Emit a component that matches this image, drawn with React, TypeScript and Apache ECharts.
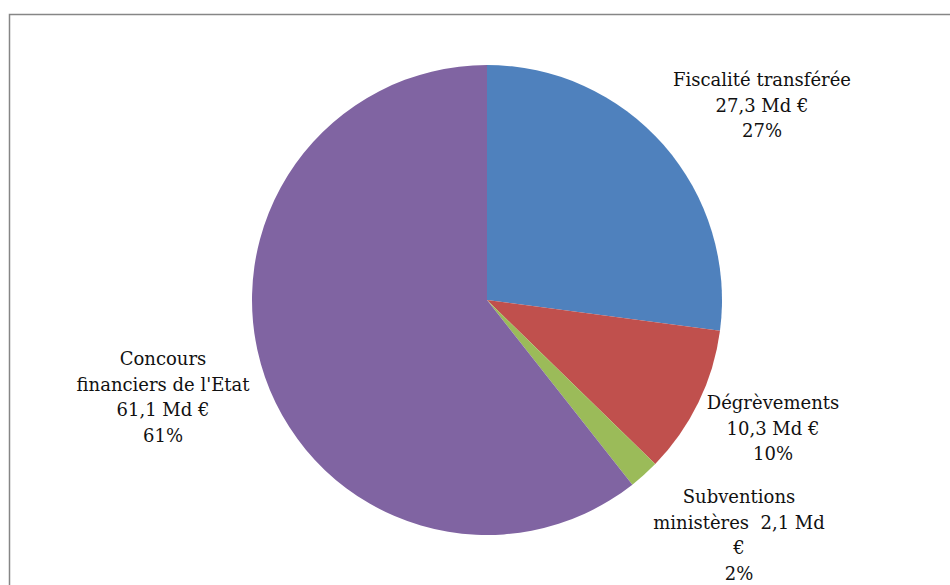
import React, { useEffect, useRef } from "react";
import * as echarts from "echarts";

const categories = [
  "Fiscalité transférée",
  "Dégrèvements",
  "Subventions ministères",
  "Concours financiers de l'Etat",
];
const values = [27.3, 10.3, 2.1, 61.1];
const colors = ["#4F81BD", "#C0504D", "#9BBB59", "#8064A2"];
// How each label's text is broken into lines ({v} = value, {p} = percent)
const labelTemplates = [
  "Fiscalité transférée\n{v} Md €\n{p}%",
  "Dégrèvements\n{v} Md €\n{p}%",
  "Subventions\nministères  {v} Md\n€\n{p}%",
  "Concours\nfinanciers de l'Etat\n{v} Md €\n{p}%",
];
const labelPos = [
  [762, 105],
  [773, 428],
  [739, 535],
  [163, 397],
];

export default function App() {
  const ref = useRef<HTMLDivElement>(null);
  useEffect(() => {
    if (!ref.current) return;
    const chart = echarts.init(ref.current, undefined, { renderer: "svg" });
    chart.setOption({
      animation: false,
      backgroundColor: "#ffffff",
      graphic: [
        {
          type: "rect",
          shape: { x: 9.5, y: 14.5, width: 1200, height: 1200 },
          style: { fill: "none", stroke: "#868686", lineWidth: 1.5 },
          z: 0,
        },
      ],
      series: [
        {
          type: "pie",
          center: [487, 300],
          radius: [0, 235],
          startAngle: 90,
          clockwise: true,
          avoidLabelOverlap: false,
          percentPrecision: 0,
          data: categories.map((name, i) => ({
            name,
            value: values[i],
            itemStyle: { color: colors[i] },
          })),
          label: {
            show: true,
            position: "outside",
            fontFamily: "DejaVu Serif",
            fontSize: 18,
            lineHeight: 25.5,
            color: "#111111",
            align: "center",
            formatter: (p: any) =>
              labelTemplates[p.dataIndex]
                .replace("{v}", String(p.value).replace(".", ","))
                .replace("{p}", String(p.percent)),
          },
          labelLine: { show: false },
          labelLayout: (p: any) => ({
            x: labelPos[p.dataIndex][0],
            y: labelPos[p.dataIndex][1],
            align: "center",
            verticalAlign: "middle",
          }),
          emphasis: { disabled: true },
        },
      ],
    });
    return () => chart.dispose();
  }, []);
  return (
    <div
      ref={ref}
      style={{ position: "absolute", left: 0, top: 0, width: 950, height: 585 }}
    />
  );
}
